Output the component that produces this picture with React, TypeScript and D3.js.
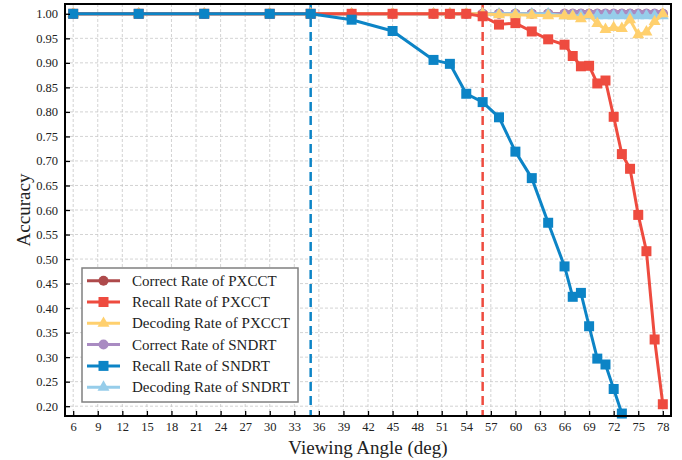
import React, { useEffect, useRef } from "react";
import * as d3 from "d3";

// viewing angles (deg)
const anglesPxcct = [6, 14, 22, 30, 35, 40, 45, 50, 52, 54, 56, 58, 60, 62, 64, 66, 67, 68, 69, 70, 71, 72, 73, 74, 75, 76, 77, 78];
const anglesSndrt = [6, 14, 22, 30, 35, 40, 45, 50, 52, 54, 56, 58, 60, 62, 64, 66, 67, 68, 69, 70, 71, 72, 73, 74, 75, 76, 77, 78];
const anglesSndrtRecall = [6, 14, 22, 30, 35, 40, 45, 50, 52, 54, 56, 58, 60, 62, 64, 66, 67, 68, 69, 70, 71, 72, 73];

const correctPxcct = [1, 1, 1, 1, 1, 1, 1, 1, 1, 1, 1, 1, 1, 1, 1, 1, 1, 1, 1, 1, 1, 1, 1, 1, 1, 1, 1, 1];
const recallPxcct = [1, 1, 1, 1, 1, 1, 1, 1, 1, 1, 0.995, 0.978, 0.981, 0.964, 0.948, 0.937, 0.914, 0.893, 0.894, 0.858, 0.864, 0.79, 0.714, 0.684, 0.59, 0.516, 0.336, 0.204];
const decodingPxcct = [1, 1, 1, 1, 1, 1, 1, 1, 1, 1, 1, 0.998, 0.998, 0.997, 0.996, 0.996, 0.995, 0.99, 0.998, 0.98, 0.968, 0.972, 0.97, 0.988, 0.957, 0.963, 0.984, 1];
const correctSndrt = [1, 1, 1, 1, 1, 1, 1, 1, 1, 1, 1, 1, 1, 1, 1, 1, 1, 1, 1, 1, 1, 1, 1, 1, 1, 1, 1, 1];
const recallSndrt = [1, 1, 1, 1, 1, 0.988, 0.965, 0.906, 0.898, 0.837, 0.82, 0.789, 0.719, 0.665, 0.574, 0.485, 0.423, 0.431, 0.363, 0.297, 0.285, 0.235, 0.185];
const decodingSndrt = [1, 1, 1, 1, 1, 1, 1, 1, 1, 1, 1, 1, 1, 1, 1, 0.996, 0.996, 0.996, 0.996, 0.996, 0.996, 0.996, 0.996, 0.996, 0.996, 0.996, 0.996, 0.996];

const xTicks = [6, 9, 12, 15, 18, 21, 24, 27, 30, 33, 36, 39, 42, 45, 48, 51, 54, 57, 60, 63, 66, 69, 72, 75, 78];
const yTicks = [0.2, 0.25, 0.3, 0.35, 0.4, 0.45, 0.5, 0.55, 0.6, 0.65, 0.7, 0.75, 0.8, 0.85, 0.9, 0.95, 1.0];
const thresholdSndrt = 35;
const thresholdPxcct = 56;

const series = [
  { name: "Correct Rate of PXCCT", x: anglesPxcct, y: correctPxcct, color: "#AE4A4B", marker: "circle" },
  { name: "Recall Rate of PXCCT", x: anglesPxcct, y: recallPxcct, color: "#EE4B3F", marker: "square" },
  { name: "Decoding Rate of PXCCT", x: anglesPxcct, y: decodingPxcct, color: "#FFD06E", marker: "triangle" },
  { name: "Correct Rate of SNDRT", x: anglesSndrt, y: correctSndrt, color: "#A98BC2", marker: "circle" },
  { name: "Recall Rate of SNDRT", x: anglesSndrtRecall, y: recallSndrt, color: "#0C84C6", marker: "square" },
  { name: "Decoding Rate of SNDRT", x: anglesSndrt, y: decodingSndrt, color: "#96CDEA", marker: "triangle" },
];
// stacking order seen in the figure
const drawOrder = [0, 3, 5, 2, 1, 4];

const FONT = "'Liberation Serif', 'Times New Roman', serif";

const App = () => {
  const svgRef = useRef<SVGSVGElement>(null);
  const width = 682;
  const height = 460;
  const margin = { top: 4, right: 11, bottom: 44, left: 65 };

  useEffect(() => {
    const svg = d3.select(svgRef.current);
    svg.selectAll("*").remove();

    const x = d3.scaleLinear().domain([5, 79]).range([margin.left, width - margin.right]);
    const y = d3.scaleLinear().domain([0.18, 1.02]).range([height - margin.bottom, margin.top]);

    const symbolFor = (m: string) => {
      if (m === "circle") return d3.symbol(d3.symbolCircle, 78)();
      if (m === "square") return d3.symbol(d3.symbolSquare, 100)();
      return d3.symbol(d3.symbolTriangle, 62)();
    };

    svg.append("rect").attr("width", width).attr("height", height).attr("fill", "#fff");

    // grid
    const grid = svg.append("g").attr("stroke", "#c8c8c8").attr("stroke-width", 0.8).attr("stroke-dasharray", "3,2");
    grid.selectAll(".gx").data(xTicks).join("line")
      .attr("x1", (d) => x(d)).attr("x2", (d) => x(d))
      .attr("y1", margin.top).attr("y2", height - margin.bottom);
    grid.selectAll(".gy").data(yTicks).join("line")
      .attr("y1", (d) => y(d)).attr("y2", (d) => y(d))
      .attr("x1", margin.left).attr("x2", width - margin.right);

    // threshold lines
    [[thresholdSndrt, "#0C84C6"], [thresholdPxcct, "#EE4B3F"]].forEach(([v, c]) => {
      svg.append("line")
        .attr("x1", x(v as number)).attr("x2", x(v as number))
        .attr("y1", margin.top).attr("y2", height - margin.bottom)
        .attr("stroke", c as string).attr("stroke-width", 2.5).attr("stroke-dasharray", "9,5");
    });

    // series
    const line = d3.line<[number, number]>().x((d) => x(d[0])).y((d) => y(d[1]));
    drawOrder.forEach((i) => {
      const s = series[i];
      const pts: [number, number][] = s.x.map((a, k) => [a, s.y[k]]);
      const g = svg.append("g");
      g.append("path").attr("d", line(pts)).attr("fill", "none")
        .attr("stroke", s.color).attr("stroke-width", 3).attr("stroke-linejoin", "round");
      g.selectAll("path.m").data(pts).join("path").attr("class", "m")
        .attr("transform", (d) => `translate(${x(d[0])},${y(d[1])})`)
        .attr("d", symbolFor(s.marker)).attr("fill", s.color);
    });

    // axes (inward ticks)
    const xAxis = svg.append("g").attr("transform", `translate(0,${height - margin.bottom})`)
      .call(d3.axisBottom(x).tickValues(xTicks).tickSizeInner(-5).tickSizeOuter(0).tickPadding(6).tickFormat(d3.format("d")));
    const yAxis = svg.append("g").attr("transform", `translate(${margin.left},0)`)
      .call(d3.axisLeft(y).tickValues(yTicks).tickSizeInner(-5).tickSizeOuter(0).tickPadding(7).tickFormat(d3.format(".2f")));
    [xAxis, yAxis].forEach((a) => {
      a.select(".domain").remove();
      a.selectAll("line").attr("stroke", "#000").attr("stroke-width", 1.3);
      a.selectAll("text").attr("font-family", FONT).attr("font-size", 12.5).attr("fill", "#222");
    });

    // frame
    svg.append("rect")
      .attr("x", margin.left).attr("y", margin.top)
      .attr("width", width - margin.right - margin.left).attr("height", height - margin.bottom - margin.top)
      .attr("fill", "none").attr("stroke", "#000").attr("stroke-width", 2);

    // axis titles
    svg.append("text").attr("x", (margin.left + width - margin.right) / 2).attr("y", 454)
      .attr("text-anchor", "middle").attr("font-family", FONT).attr("font-size", 19).attr("fill", "#222")
      .text("Viewing Angle (deg)");
    svg.append("text").attr("transform", `translate(30,${(margin.top + height - margin.bottom) / 2}) rotate(-90)`)
      .attr("text-anchor", "middle").attr("font-family", FONT).attr("font-size", 19).attr("fill", "#222")
      .text("Accuracy");

    // legend
    const lg = svg.append("g").attr("transform", "translate(82,268)");
    lg.append("rect").attr("width", 216).attr("height", 134).attr("fill", "#fff")
      .attr("stroke", "#808080").attr("stroke-width", 1.5);
    series.forEach((s, i) => {
      const row = lg.append("g").attr("transform", `translate(0,${12.7 + i * 21.3})`);
      row.append("line").attr("x1", 5).attr("x2", 38).attr("stroke", s.color).attr("stroke-width", 3);
      row.append("path").attr("transform", "translate(21.5,0)").attr("d", symbolFor(s.marker)).attr("fill", s.color);
      row.append("text").attr("x", 50).attr("y", 5).attr("font-family", FONT).attr("font-size", 15).attr("fill", "#222")
        .text(s.name);
    });
  }, []);

  return (
    <svg ref={svgRef} width={width} height={height} style={{ position: "absolute", left: 0, top: 0 }}></svg>
  );
};

export default App;
